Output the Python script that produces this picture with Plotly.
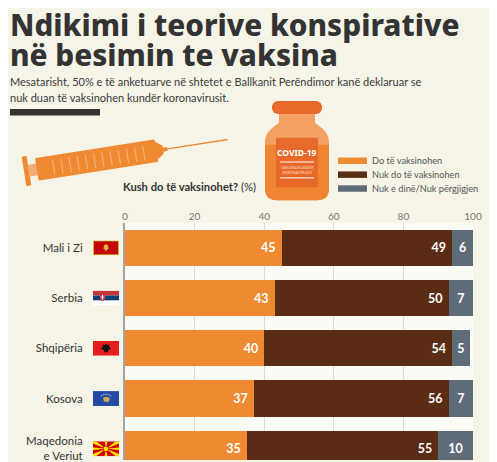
import base64
import plotly.graph_objects as go

# ── Data ──────────────────────────────────────────────────────────────────────

countries   = ["Mali i Zi", "Serbia", "Shqipëria", "Kosova", "Maqedonia<br>e Veriut"]
will_vax    = [45, 43, 40, 37, 35]
wont_vax    = [49, 50, 54, 56, 55]
dont_know   = [6, 7, 5, 7, 10]
series_names  = ["Do të vaksinohen", "Nuk do të vaksinohen", "Nuk e dinë/Nuk përgjigjen"]
series_colors = ["#ef8a33", "#5a2c13", "#5e6b78"]
x_ticks     = [0, 20, 40, 60, 80, 100]

# ── Page geometry ─────────────────────────────────────────────────────────────
# the page body has an 8px margin, so the figure is 8px smaller than the window

OFF = 8
W, H = 497 - OFF, 462 - OFF
L, R, T, B = 125 - OFF, 24, 223 - OFF, 0
PW, PH = W - L - R, H - T - B
Y_RANGE = [4.223, -0.494]          # reversed so the first country sits on top

TITLE_FONT = "Noto Sans"
FONT = "Lato"
BG = "#f6f4e7"


def px(x):  # window pixel -> paper x
    return (x - OFF - L) / PW


def py(y):  # window pixel -> paper y
    return (H - B - (y - OFF)) / PH


def svg_uri(svg):
    return "data:image/svg+xml;base64," + base64.b64encode(svg.encode()).decode()


# ── Little pictures (flags, syringe, vial) ────────────────────────────────────

def flag(body):
    return svg_uri(
        '<svg xmlns="http://www.w3.org/2000/svg" viewBox="0 0 26 15" '
        'preserveAspectRatio="none" width="26" height="15">' + body + "</svg>")


FLAGS = [
    # Montenegro
    flag('<rect width="26" height="15" fill="#d4af37"/>'
         '<rect x="1" y="1" width="24" height="13" fill="#c40308"/>'
         '<path d="M11 5 L13 4 L15 5 L15.5 8 L13 11 L10.5 8 Z" fill="#d9b23a"/>'),
    # Serbia
    flag('<rect width="26" height="5" fill="#c6363c"/>'
         '<rect y="5" width="26" height="5" fill="#0c4076"/>'
         '<rect y="10" width="26" height="5" fill="#ffffff"/>'
         '<path d="M7 3 L12 3 L12 9 Q9.5 12 7 9 Z" fill="#c6363c"/>'
         '<rect x="9" y="4" width="1" height="5" fill="#fff"/>'
         '<rect x="7.8" y="6" width="3.4" height="1" fill="#fff"/>'),
    # Albania
    flag('<rect width="26" height="15" fill="#e41e20"/>'
         '<path d="M13 3 L14.5 4.5 L16.5 3.5 L16 6.5 L18.5 7.5 L15.5 9 L14.5 12 '
         'L13 10.8 L11.5 12 L10.5 9 L7.5 7.5 L10 6.5 L9.5 3.5 L11.5 4.5 Z" fill="#111"/>'),
    # Kosovo
    flag('<rect width="26" height="15" fill="#244aa5"/>'
         '<path d="M10 7 L12.5 5.8 L16 6.3 L16.8 8.6 L14.5 11.5 L12.8 10.6 L11 10.8 Z" fill="#d0a650"/>'
         + "".join(f'<circle cx="{cx}" cy="{cy}" r="0.55" fill="#fff"/>'
                   for cx, cy in [(8.5, 4.6), (10.3, 3.7), (12.2, 3.2), (14.1, 3.2), (16.0, 3.7), (17.8, 4.6)])),
    # North Macedonia
    flag('<rect width="26" height="15" fill="#d20000"/>'
         '<g fill="#ffe600">'
         '<path d="M0 0 L3 0 L13 7.5 L0 2.2 Z"/><path d="M26 0 L23 0 L13 7.5 L26 2.2 Z"/>'
         '<path d="M0 15 L3 15 L13 7.5 L0 12.8 Z"/><path d="M26 15 L23 15 L13 7.5 L26 12.8 Z"/>'
         '<path d="M11.6 0 L14.4 0 L13 7.5 Z"/><path d="M11.6 15 L14.4 15 L13 7.5 Z"/>'
         '<path d="M0 6.3 L0 8.7 L13 7.5 Z"/><path d="M26 6.3 L26 8.7 L13 7.5 Z"/>'
         '</g><circle cx="13" cy="7.5" r="3" fill="#d20000"/>'
         '<circle cx="13" cy="7.5" r="2.4" fill="#ffe600"/>'),
]

grads = "".join(
    f'<line x1="{30 + 8.3 * k:.1f}" y1="-7" x2="{30 + 8.3 * k:.1f}" y2="8" '
    f'stroke="#f7c49a" stroke-width="0.7"/>' for k in range(12))
SYRINGE = svg_uri(
    '<svg xmlns="http://www.w3.org/2000/svg" viewBox="0 0 220 65" '
    'preserveAspectRatio="none" width="220" height="65">'
    '<g transform="translate(9,46) rotate(-9)">'
    '<rect x="0" y="-15" width="5" height="30" rx="1" fill="#ef8a33"/>'
    '<rect x="5" y="-6" width="10" height="12" fill="#f4ad74"/>'
    '<rect x="13" y="-11.5" width="121" height="23" rx="1" fill="#ef8a33"/>'
    + grads +
    '<path d="M133 -10 L141 -4 L141 4 L133 10 Z" fill="#ef8a33"/>'
    '<rect x="140" y="-2" width="5" height="4" fill="#ef8a33"/>'
    '<line x1="144" y1="0" x2="206" y2="0" stroke="#ef8a33" stroke-width="1.4"/>'
    '</g></svg>')

VIAL = svg_uri(
    '<svg xmlns="http://www.w3.org/2000/svg" viewBox="0 0 70 104" '
    'preserveAspectRatio="none" width="70" height="104">'
    '<path d="M17 24 L53 24 C60 30 67 33 67 44 L67 90 Q67 102 55 102 L15 102 '
    'Q3 102 3 90 L3 44 C3 33 10 30 17 24 Z" fill="#f3a062"/>'
    '<path d="M3 46 L67 46 L67 90 Q67 102 55 102 L15 102 Q3 102 3 90 Z" fill="#ef8532"/>'
    '<rect x="17" y="14" width="36" height="12" fill="#f3a062"/>'
    '<rect x="10" y="2" width="50" height="13" rx="6" fill="#e8692a"/>'
    '<rect x="14" y="39" width="42" height="50" fill="#e8692a"/>'
    '<line x1="18" y1="63.5" x2="52" y2="63.5" stroke="#fff" stroke-width="1"/>'
    '<line x1="18" y1="79.5" x2="52" y2="79.5" stroke="#fff" stroke-width="1"/>'
    '</svg>')

# ── Figure ────────────────────────────────────────────────────────────────────

rows = list(range(len(countries)))
fig = go.Figure()

for name, vals, color, anchor in zip(series_names, [will_vax, wont_vax, dont_know],
                                     series_colors, ["end", "end", "middle"]):
    fig.add_trace(go.Bar(
        x=vals, y=rows, orientation="h", name=name,
        marker=dict(color=color, line_width=0),
        texttemplate="%{x}\u00a0" if anchor == "end" else "%{x}",
        textposition="inside", insidetextanchor=anchor, textangle=0,
        textfont=dict(family=FONT, size=12.5, color="white", weight="bold"),
        showlegend=False,
    ))

images = [dict(source=SYRINGE, xref="paper", yref="paper", x=px(15), y=py(125),
               sizex=220 / PW, sizey=65 / PH, xanchor="left", yanchor="top",
               sizing="stretch", layer="above"),
          dict(source=VIAL, xref="paper", yref="paper", x=px(262), y=py(98),
               sizex=70 / PW, sizey=104 / PH, xanchor="left", yanchor="top",
               sizing="stretch", layer="above")]
unit = (Y_RANGE[0] - Y_RANGE[1]) / PH
for i, src in zip(rows, FLAGS):
    images.append(dict(source=src, xref="paper", yref="y", x=px(93), y=i,
                       sizex=26 / PW, sizey=15 * unit, xanchor="left", yanchor="middle",
                       sizing="stretch", layer="above"))

annotations = [
    dict(text="Ndikimi i teorive konspirative", x=px(8), y=py(23),
         font=dict(family=TITLE_FONT, size=29.7, color="#333", weight=800)),
    dict(text="në besimin te vaksina", x=px(8), y=py(53),
         font=dict(family=TITLE_FONT, size=29.7, color="#333", weight=800)),
    dict(text="Mesatarisht, 50% e të anketuarve në shtetet e Ballkanit Perëndimor kanë deklaruar se",
         x=px(8), y=py(80), font=dict(size=11, color="#3a3a3a")),
    dict(text="nuk duan të vaksinohen kundër koronavirusit.",
         x=px(8), y=py(96), font=dict(size=11, color="#3a3a3a")),
    dict(text="<b>Kush do të vaksinohet?</b> (%)", x=px(121), y=py(186),
         font=dict(size=11.2, color="#333")),
    dict(text="<b>COVID-19</b>", x=px(297), y=py(152), xanchor="center",
         font=dict(family=TITLE_FONT, size=8.5, color="white")),
    dict(text="VAKSINA KUNDËR<br>KORONAVIRUSIT", x=px(297), y=py(170), xanchor="center",
         font=dict(size=3.8, color="#fbd9c0")),
]
shapes = [dict(type="rect", xref="paper", yref="paper", x0=px(10), x1=px(100),
               y0=py(108), y1=py(114.5), fillcolor="#333", line_width=0)]

for k, (name, color) in enumerate(zip(series_names, series_colors)):
    top = 157 + 14 * k
    shapes.append(dict(type="rect", xref="paper", yref="paper", x0=px(338), x1=px(367),
                       y0=py(top), y1=py(top + 6.5), fillcolor=color, line_width=0))
    annotations.append(dict(text=name, x=px(370), y=py(top + 3.2),
                            font=dict(size=9.2, color="#555")))

for a in annotations:
    a.setdefault("xanchor", "left")
    a.update(xref="paper", yref="paper", yanchor="middle", showarrow=False)
    a["font"].setdefault("family", FONT)

fig.update_layout(
    width=W, height=H,
    margin=dict(l=L, r=R, t=T, b=B),
    paper_bgcolor=BG, plot_bgcolor="#fbfaf4",
    barmode="stack", bargap=0.28,
    showlegend=False,
    font=dict(family=FONT, color="#333"),
    images=images, annotations=annotations, shapes=shapes,
)
fig.update_xaxes(
    side="top", range=[0, 100], tickvals=x_ticks,
    showgrid=True, gridcolor="#dedcd2", gridwidth=1, zeroline=False,
    ticks="", tickfont=dict(size=10, color="#777"), fixedrange=True,
)
fig.update_yaxes(
    range=Y_RANGE, tickvals=rows, ticktext=countries,
    showgrid=False, zeroline=False, showline=True, linecolor="#a5a5a0", linewidth=2,
    ticks="", ticklabelstandoff=38, ticklabeloverflow="allow",
    tickfont=dict(size=11.5, color="#333"), fixedrange=True,
)

fig.write_html("out.html")
